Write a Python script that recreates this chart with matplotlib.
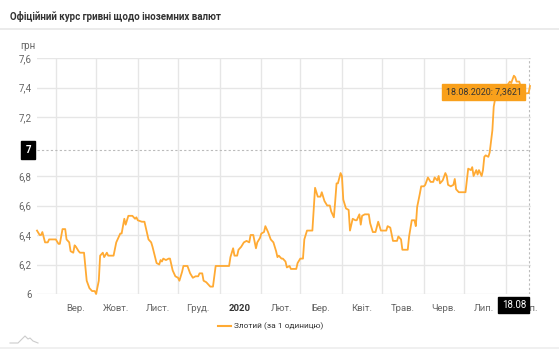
import matplotlib
matplotlib.use("Agg")
import matplotlib.pyplot as plt
from matplotlib.lines import Line2D
import pandas as pd

plt.rcParams['font.family'] = ['Roboto', 'DejaVu Sans']

# official rate of PLN (UAH per 1 zloty)
dates = [
    '2019-08-18', '2019-08-20', '2019-08-21', '2019-08-22', '2019-08-24', '2019-08-26', '2019-08-27',
    '2019-08-29', '2019-08-30', '2019-09-01', '2019-09-03', '2019-09-04', '2019-09-06', '2019-09-08',
    '2019-09-09', '2019-09-11', '2019-09-12', '2019-09-14', '2019-09-15', '2019-09-16', '2019-09-18',
    '2019-09-19', '2019-09-22', '2019-09-24', '2019-09-26', '2019-09-28', '2019-09-30', '2019-10-01',
    '2019-10-03', '2019-10-04', '2019-10-06', '2019-10-07', '2019-10-09', '2019-10-10', '2019-10-14',
    '2019-10-16', '2019-10-19', '2019-10-20', '2019-10-22', '2019-10-23', '2019-10-25', '2019-10-28',
    '2019-10-30', '2019-10-31', '2019-11-01', '2019-11-04', '2019-11-06', '2019-11-09', '2019-11-11',
    '2019-11-12', '2019-11-15', '2019-11-17', '2019-11-18', '2019-11-19', '2019-11-20', '2019-11-22',
    '2019-11-24', '2019-11-25', '2019-11-27', '2019-11-29', '2019-12-01', '2019-12-02', '2019-12-04',
    '2019-12-05', '2019-12-08', '2019-12-10', '2019-12-12', '2019-12-14', '2019-12-16', '2019-12-17',
    '2019-12-19', '2019-12-20', '2019-12-22', '2019-12-23', '2019-12-25', '2019-12-27', '2019-12-29',
    '2020-01-01', '2020-01-06', '2020-01-08', '2020-01-09', '2020-01-11', '2020-01-12', '2020-01-14',
    '2020-01-15', '2020-01-17', '2020-01-19', '2020-01-21', '2020-01-23', '2020-01-24', '2020-01-26',
    '2020-01-28', '2020-01-29', '2020-01-31', '2020-02-01', '2020-02-03', '2020-02-04', '2020-02-06',
    '2020-02-08', '2020-02-10', '2020-02-12', '2020-02-13', '2020-02-14', '2020-02-16', '2020-02-17',
    '2020-02-19', '2020-02-20', '2020-02-22', '2020-02-23', '2020-02-25', '2020-02-27', '2020-02-28',
    '2020-03-01', '2020-03-03', '2020-03-04', '2020-03-06', '2020-03-09', '2020-03-10', '2020-03-11',
    '2020-03-12', '2020-03-14', '2020-03-16', '2020-03-17', '2020-03-19', '2020-03-21', '2020-03-23',
    '2020-03-24', '2020-03-26', '2020-03-27', '2020-03-28', '2020-03-29', '2020-03-31', '2020-04-01',
    '2020-04-02', '2020-04-04', '2020-04-06', '2020-04-07', '2020-04-09', '2020-04-11', '2020-04-12',
    '2020-04-14', '2020-04-15', '2020-04-16', '2020-04-18', '2020-04-21', '2020-04-22', '2020-04-24',
    '2020-04-26', '2020-04-28', '2020-04-30', '2020-05-02', '2020-05-04', '2020-05-05', '2020-05-07',
    '2020-05-09', '2020-05-10', '2020-05-12', '2020-05-13', '2020-05-15', '2020-05-16', '2020-05-18',
    '2020-05-20', '2020-05-21', '2020-05-23', '2020-05-25', '2020-05-26', '2020-05-27', '2020-05-29',
    '2020-05-30', '2020-06-01', '2020-06-02', '2020-06-04', '2020-06-06', '2020-06-08', '2020-06-09',
    '2020-06-11', '2020-06-12', '2020-06-13', '2020-06-15', '2020-06-17', '2020-06-18', '2020-06-19',
    '2020-06-21', '2020-06-23', '2020-06-24', '2020-06-25', '2020-06-27', '2020-06-29', '2020-07-02',
    '2020-07-03', '2020-07-04', '2020-07-06', '2020-07-07', '2020-07-08', '2020-07-10', '2020-07-11',
    '2020-07-12', '2020-07-14', '2020-07-15', '2020-07-16', '2020-07-17', '2020-07-19', '2020-07-20',
    '2020-07-22', '2020-07-23', '2020-07-24', '2020-07-26', '2020-07-28', '2020-07-30', '2020-08-01',
    '2020-08-04', '2020-08-05', '2020-08-07', '2020-08-08', '2020-08-09', '2020-08-11', '2020-08-12',
    '2020-08-14', '2020-08-16', '2020-08-18', '2020-08-19',
]
rates = [
    6.43, 6.40, 6.40, 6.42, 6.35, 6.35, 6.37,
    6.37, 6.37, 6.37, 6.34, 6.34, 6.44, 6.44,
    6.37, 6.35, 6.29, 6.28, 6.33, 6.32, 6.29,
    6.28, 6.28, 6.09, 6.04, 6.02, 6.02, 6.00,
    6.09, 6.26, 6.28, 6.25, 6.28, 6.26, 6.26,
    6.35, 6.41, 6.41, 6.51, 6.47, 6.53, 6.53,
    6.51, 6.52, 6.50, 6.49, 6.49, 6.37, 6.35,
    6.32, 6.21, 6.20, 6.23, 6.22, 6.24, 6.23,
    6.24, 6.24, 6.16, 6.12, 6.11, 6.09, 6.15,
    6.19, 6.19, 6.14, 6.11, 6.12, 6.12, 6.14,
    6.14, 6.09, 6.08, 6.07, 6.05, 6.05, 6.19,
    6.19, 6.19, 6.19, 6.25, 6.31, 6.26, 6.26,
    6.30, 6.32, 6.35, 6.36, 6.35, 6.40, 6.40,
    6.31, 6.35, 6.38, 6.41, 6.42, 6.46, 6.42,
    6.37, 6.35, 6.29, 6.25, 6.26, 6.24, 6.24,
    6.22, 6.18, 6.19, 6.17, 6.17, 6.17, 6.21,
    6.24, 6.24, 6.37, 6.43, 6.43, 6.43, 6.57,
    6.72, 6.66, 6.66, 6.69, 6.63, 6.60, 6.60,
    6.56, 6.52, 6.63, 6.75, 6.75, 6.82, 6.80,
    6.64, 6.58, 6.57, 6.43, 6.51, 6.50, 6.50,
    6.54, 6.47, 6.53, 6.54, 6.54, 6.48, 6.42,
    6.42, 6.49, 6.43, 6.43, 6.43, 6.46, 6.45,
    6.36, 6.36, 6.36, 6.39, 6.37, 6.30, 6.30,
    6.30, 6.39, 6.50, 6.50, 6.46, 6.59, 6.68,
    6.73, 6.73, 6.74, 6.79, 6.76, 6.76, 6.79,
    6.77, 6.80, 6.75, 6.77, 6.82, 6.80, 6.74,
    6.73, 6.74, 6.78, 6.71, 6.69, 6.69, 6.69,
    6.77, 6.85, 6.84, 6.86, 6.80, 6.84, 6.81,
    6.84, 6.80, 6.84, 6.93, 6.94, 6.93, 6.96,
    7.11, 7.27, 7.32, 7.33, 7.34, 7.37, 7.40,
    7.44, 7.43, 7.48, 7.47, 7.44, 7.44, 7.41,
    7.35, 7.36, 7.3621, 7.41,
]

month_labels = ['Вер.', 'Жовт.', 'Лист.', 'Груд.', '2020', 'Лют.', 'Бер.',
                'Квіт.', 'Трав.', 'Черв.', 'Лип.', 'Серп.']
y_ticks = [6.0, 6.2, 6.4, 6.6, 6.8, 7.0, 7.2, 7.4, 7.6]
# the 7 label is covered by the crosshair label in the original
y_labels = ['6', '6,2', '6,4', '6,6', '6,8', '', '7,2', '7,4', '7,6']
series_name = 'Злотий (за 1 одиницю)'
hover_date = '2020-08-18'
hover_value = 7.3621
cross_y = 6.976

line_color = '#ffaa33'
grid_color = '#e6e6e6'
text_color = '#666666'

x = pd.to_datetime(dates)

fig = plt.figure(figsize=(5.59, 3.5), dpi=100)
ax = fig.add_axes([37 / 559, 1 - 294 / 350, 494 / 559, 236 / 350])

ax.plot(x, rates, color=line_color, lw=1.3, zorder=3, clip_on=False)

ax.set_xlim(pd.Timestamp('2019-08-18'), pd.Timestamp('2020-08-19 18:00'))
ax.set_ylim(6.0, 7.6)

# month-start gridlines, labels in the middle of each month
month_starts = pd.date_range('2019-09-01', '2020-08-01', freq='MS')
ax.set_xticks(month_starts)
ax.set_xticklabels([])
ax.set_xticks(month_starts + pd.Timedelta(days=15), minor=True)
ax.set_xticklabels(month_labels, minor=True)
ax.tick_params(axis='x', which='both', length=0, pad=7)
ax.tick_params(axis='x', which='minor', labelsize=6.8, labelcolor=text_color)
for lbl in ax.get_xticklabels(minor=True):
    if lbl.get_text() == '2020':
        lbl.set_fontweight('bold')
        lbl.set_color('#333333')
ax.xaxis.grid(True, which='major', color=grid_color, lw=1)

ax.set_yticks(y_ticks)
ax.set_yticklabels(y_labels)
ax.tick_params(axis='y', length=0, pad=4, labelsize=7, labelcolor=text_color)
for v in y_ticks:
    if v != 7.0:
        ax.axhline(v, color=grid_color, lw=1, zorder=0)

for s in ax.spines.values():
    s.set_visible(False)

# crosshairs
ax.axhline(cross_y, color='#bbbbbb', lw=0.8, ls=(0, (2, 2)), zorder=2)
ax.axvline(pd.Timestamp(hover_date), color='#bbbbbb', lw=0.8, ls=(0, (2, 2)), zorder=2)

# crosshair labels
ax.text(-0.012, cross_y, '7', transform=ax.get_yaxis_transform(), ha='right', va='center',
        color='white', fontsize=7, fontweight='bold',
        bbox=dict(boxstyle='square,pad=0.45', fc='black', ec='black'), zorder=6, clip_on=False)
ax.text(pd.Timestamp('2020-08-16'), -0.047, '18.08', transform=ax.get_xaxis_transform(),
        ha='right', va='center', color='white', fontsize=7,
        bbox=dict(boxstyle='square,pad=0.35', fc='black', ec='black'), zorder=6, clip_on=False)

# tooltip
ax.annotate(hover_date[8:10] + '.' + hover_date[5:7] + '.' + hover_date[:4] + ': '
            + f'{hover_value:.4f}'.replace('.', ','),
            xy=(pd.Timestamp(hover_date), hover_value), xytext=(-7, 1),
            textcoords='offset pixels', ha='right', va='center', fontsize=6.4, color='#333333',
            bbox=dict(boxstyle='square,pad=0.4', fc='#f9a01b', ec='#f9a01b'), zorder=7)

# title, unit, legend, decoration
fig.text(10 / 559, 1 - 16 / 350, 'Офіційний курс гривні щодо іноземних валют',
         fontsize=7, fontweight='bold', color='#333333', va='center')
fig.add_artist(Line2D([0, 1], [1 - 29 / 350] * 2, color='#e8e8e8', lw=1.2))
fig.add_artist(Line2D([0, 1], [1 - 348 / 350] * 2, color='#eeeeee', lw=1.2))
fig.text(20 / 559, 1 - 46 / 350, 'грн', fontsize=7, color=text_color, va='center')

fig.add_artist(Line2D([218 / 559, 231 / 559], [1 - 326 / 350] * 2, color=line_color, lw=1.5))
fig.text(234 / 559, 1 - 326 / 350, series_name, fontsize=6, color='#333333', va='center')

ix = [10, 18, 22, 25, 28, 30, 33, 38]
iy = [343, 343, 339, 336, 339, 338, 341, 343]
fig.add_artist(Line2D([v / 559 for v in ix], [1 - v / 350 for v in iy], color='#cccccc', lw=0.8))

fig.savefig('out.png', dpi=100)
